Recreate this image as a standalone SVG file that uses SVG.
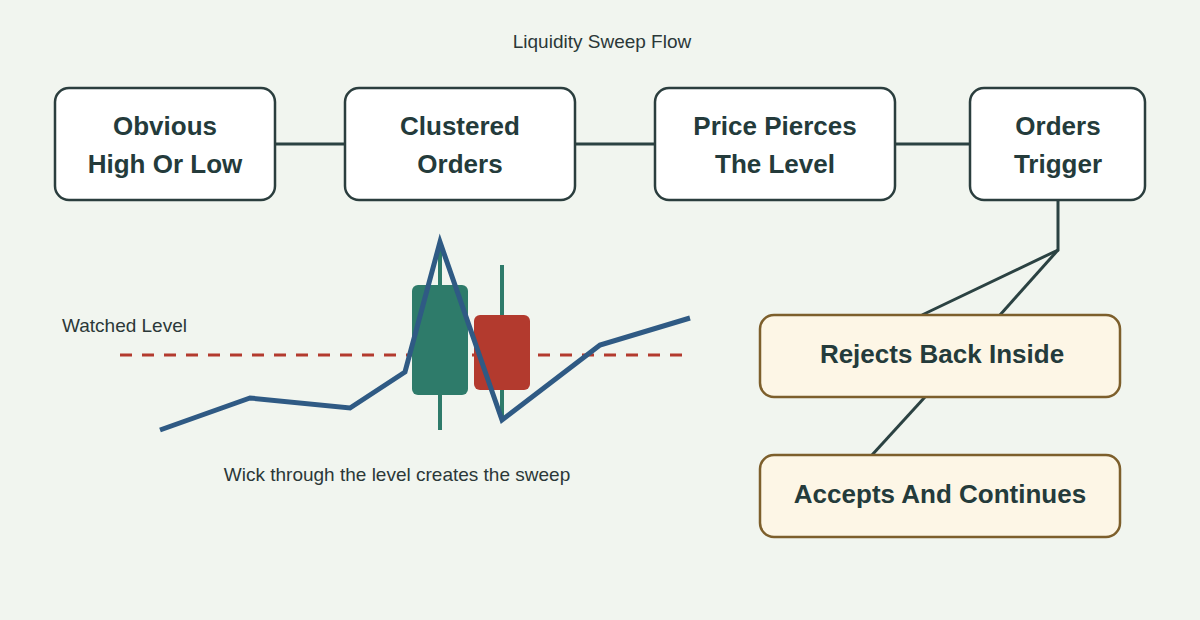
<svg xmlns="http://www.w3.org/2000/svg" width="1200" height="620" viewBox="0 0 1200 620">
<style>
.n rect{fill:#fff;stroke:#2b3e3e;stroke-width:2.5}
.o rect{fill:#fdf6e6;stroke:#7d5f2c;stroke-width:2.5}
.t{font-family:"Liberation Sans",Arial,sans-serif;font-weight:bold;font-size:26px;fill:#243b3b;text-anchor:middle}
.s{font-family:"Liberation Sans",Arial,sans-serif;font-size:19px;fill:#2b3838}
#connectors line,#connectors polyline{stroke:#2b4242;stroke-width:3;fill:none}
</style>
<rect width="1200" height="620" fill="#f1f5ef"/>
<text class="s" x="602" y="48" text-anchor="middle">Liquidity Sweep Flow</text>
<g id="connectors">
<line x1="275" y1="144" x2="345" y2="144"/>
<line x1="575" y1="144" x2="655" y2="144"/>
<line x1="895" y1="144" x2="970" y2="144"/>
<polyline points="1058,200 1058,250 922,315"/>
<line x1="1058" y1="250" x2="1000" y2="315"/>
<line x1="925" y1="397" x2="872" y2="455"/>
</g>
<g id="n1" class="n"><rect x="55" y="88" width="220" height="112" rx="14"/><text class="t" x="165" y="135">Obvious</text><text class="t" x="165" y="173">High Or Low</text></g>
<g id="n2" class="n"><rect x="345" y="88" width="230" height="112" rx="14"/><text class="t" x="460" y="135">Clustered</text><text class="t" x="460" y="173">Orders</text></g>
<g id="n3" class="n"><rect x="655" y="88" width="240" height="112" rx="14"/><text class="t" x="775" y="135">Price Pierces</text><text class="t" x="775" y="173">The Level</text></g>
<g id="n4" class="n"><rect x="970" y="88" width="175" height="112" rx="14"/><text class="t" x="1058" y="135">Orders</text><text class="t" x="1058" y="173">Trigger</text></g>
<g id="n5" class="o"><rect x="760" y="315" width="360" height="82" rx="14"/><text class="t" x="942" y="363">Rejects Back Inside</text></g>
<g id="n6" class="o"><rect x="760" y="455" width="360" height="82" rx="14"/><text class="t" x="940" y="503">Accepts And Continues</text></g>
<g id="chart">
<text class="s" x="62" y="332">Watched Level</text>
<line x1="120" y1="355" x2="685" y2="355" stroke="#b33a2e" stroke-width="3" stroke-dasharray="12 10"/>
<line x1="440" y1="250" x2="440" y2="430" stroke="#2e7b6a" stroke-width="4"/>
<rect x="412" y="285" width="56" height="110" rx="6" fill="#2e7b6a"/>
<line x1="502" y1="265" x2="502" y2="420" stroke="#2e7b6a" stroke-width="4"/>
<rect x="474" y="315" width="56" height="75" rx="6" fill="#b33a2e"/>
<polyline points="160,430 250,398 350,408 405,372 440,242 502,420 600,345 690,318" fill="none" stroke="#2f5a84" stroke-width="5"/>
<text class="s" x="397" y="481" text-anchor="middle">Wick through the level creates the sweep</text>
</g>
</svg>
